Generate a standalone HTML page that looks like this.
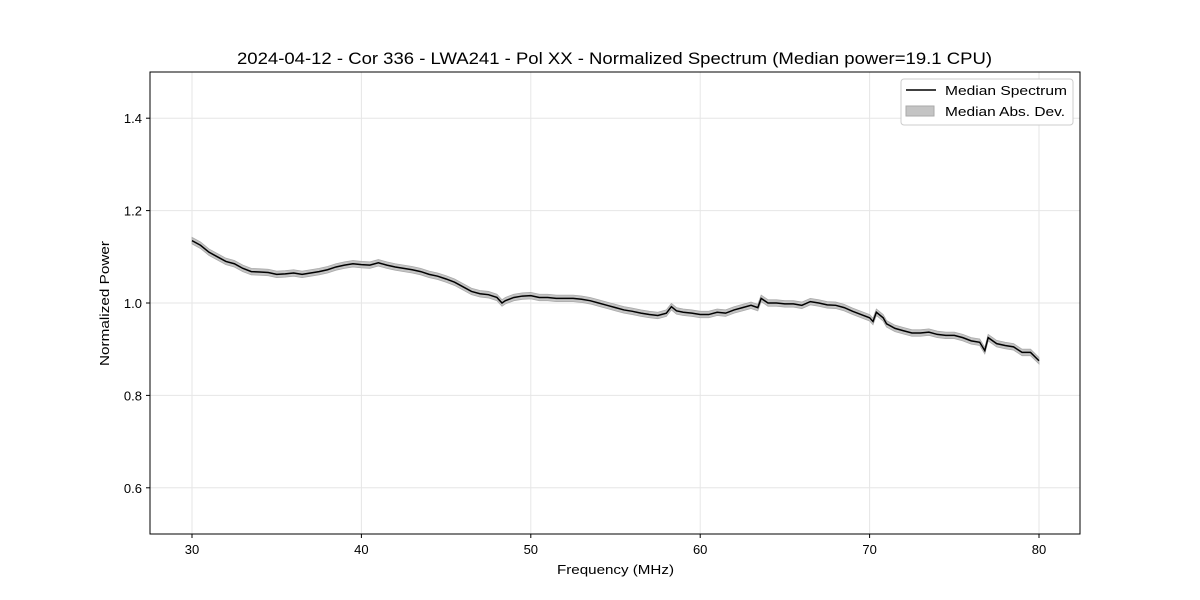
<!DOCTYPE html>
<html><head><meta charset="utf-8"><style>
body{margin:0;background:#fff}
svg{display:block;font-family:"Liberation Sans","DejaVu Sans",sans-serif}
</style></head><body>
<svg id="chart" width="1200" height="600" viewBox="0 0 1200 600">
<rect width="1200" height="600" fill="#fff"/>
<text x="237" y="64" font-size="16.5" textLength="755" lengthAdjust="spacingAndGlyphs">2024-04-12 - Cor 336 - LWA241 - Pol XX - Normalized Spectrum (Median power=19.1 CPU)</text>
<g id="grid"></g><g id="band"></g><g id="line"></g><g id="axes"></g>
<text x="557" y="574" font-size="13" textLength="117" lengthAdjust="spacingAndGlyphs">Frequency (MHz)</text>
<text transform="translate(109,366) rotate(-90)" font-size="13" textLength="125" lengthAdjust="spacingAndGlyphs">Normalized Power</text>
<g>
<rect x="901" y="79" width="172" height="46" fill="#fff" stroke="#ccc" rx="3"/>
<line x1="906" y1="90" x2="936" y2="90" stroke="#000" stroke-width="1.5"/>
<text x="945" y="95" font-size="13" textLength="122" lengthAdjust="spacingAndGlyphs">Median Spectrum</text>
<rect x="906" y="106" width="28" height="10" fill="#c4c4c4" stroke="#aaa"/>
<text x="945" y="116" font-size="13" textLength="120" lengthAdjust="spacingAndGlyphs">Median Abs. Dev.</text>
</g>
</svg>
<script>
const freqs=[30,30.5,31,31.5,32,32.5,33,33.5,34,34.5,35,35.5,36,36.5,37,37.5,38,38.5,39,39.5,40,40.5,41,41.5,42,42.5,43,43.5,44,44.5,45,45.5,46,46.5,47,47.5,48,48.3,48.5,49,49.5,50,50.5,51,51.5,52,52.5,53,53.5,54,54.5,55,55.5,56,56.5,57,57.5,58,58.3,58.6,59,59.5,60,60.5,61,61.5,62,62.5,63,63.4,63.6,64,64.5,65,65.5,66,66.5,67,67.5,68,68.5,69,69.5,70,70.2,70.4,70.8,71,71.5,72,72.5,73,73.5,74,74.5,75,75.5,76,76.5,76.8,77,77.5,78,78.5,79,79.5,80];
const power=[1.135,1.125,1.11,1.10,1.09,1.085,1.075,1.068,1.067,1.066,1.062,1.063,1.065,1.062,1.065,1.068,1.072,1.078,1.082,1.085,1.083,1.082,1.087,1.082,1.078,1.075,1.072,1.068,1.062,1.058,1.052,1.045,1.035,1.025,1.02,1.018,1.012,1.0,1.005,1.012,1.015,1.016,1.012,1.012,1.01,1.01,1.01,1.008,1.005,1.0,0.995,0.99,0.985,0.982,0.978,0.975,0.973,0.978,0.992,0.983,0.98,0.978,0.975,0.975,0.98,0.978,0.985,0.99,0.995,0.99,1.01,1.0,1.0,0.998,0.998,0.995,1.003,1.0,0.996,0.995,0.99,0.982,0.975,0.968,0.96,0.98,0.968,0.955,0.945,0.94,0.935,0.935,0.937,0.932,0.93,0.93,0.925,0.918,0.915,0.897,0.925,0.912,0.908,0.905,0.893,0.893,0.875];
const mad=0.007;
const xTicks=[30,40,50,60,70,80];
const yTicks=[0.6,0.8,1.0,1.2,1.4];
const X=f=>192+(f-30)*(1039-192)/50;
const Y=v=>534-(v-0.5)*462;
const NS="http://www.w3.org/2000/svg";
function mk(t,a,p){const e=document.createElementNS(NS,t);for(const k in a)e.setAttribute(k,a[k]);p.appendChild(e);return e;}
const grid=document.getElementById('grid'),axes=document.getElementById('axes');
xTicks.forEach(t=>{
 const g=mk('line',{x1:X(t),x2:X(t),y1:72,y2:534,stroke:'#e6e6e6'},grid);
 
 
 mk('line',{x1:X(t),x2:X(t),y1:534,y2:538,stroke:'#000'},axes);
 const l=mk('text',{x:X(t),y:554,'text-anchor':'middle','font-size':13},axes);
 l.textContent=t;
 
 
});
yTicks.forEach(t=>{
 const g=mk('line',{x1:150,x2:1080,y1:Y(t),y2:Y(t),stroke:'#e6e6e6'},grid);
 
 
 mk('line',{x1:146,x2:150,y1:Y(t),y2:Y(t),stroke:'#000'},axes);
 const l=mk('text',{x:142,y:Y(t)+5,'text-anchor':'end','font-size':13},axes);
 l.textContent=t.toFixed(1);
 
 
});
const frame=mk('rect',{x:150,y:72,width:930,height:462,fill:'none',stroke:'#000'},axes);


let up=freqs.map((f,i)=>X(f)+','+Y(power[i]+mad)).join(' ');
let dn=freqs.map((f,i)=>X(f)+','+Y(power[i]-mad)).reverse().join(' ');
const band=mk('polygon',{points:up+' '+dn,fill:'#c4c4c4',stroke:'#aaa','stroke-width':0.8},document.getElementById('band'));


const line=mk('polyline',{points:freqs.map((f,i)=>X(f)+','+Y(power[i])).join(' '),fill:'none',stroke:'#000','stroke-width':1.5},document.getElementById('line'));


</script>
</body></html>
